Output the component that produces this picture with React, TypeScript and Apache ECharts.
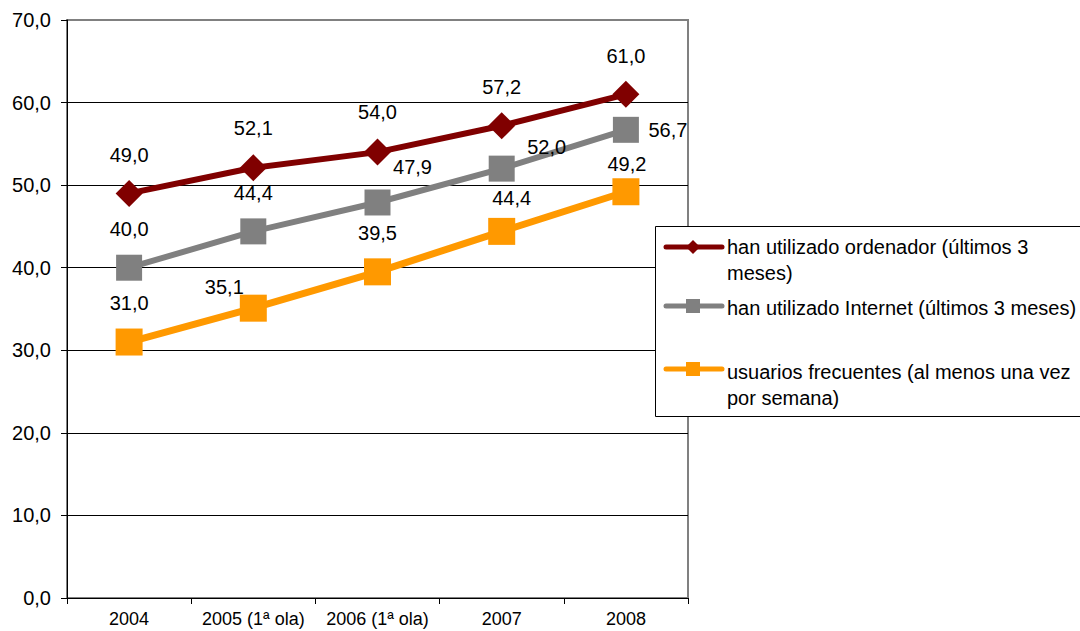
import React, { useEffect, useRef } from 'react';
import * as echarts from 'echarts';

const categories = ['2004', '2005 (1ª ola)', '2006 (1ª ola)', '2007', '2008'];
const seriesNames = [
  'han utilizado ordenador (últimos 3 meses)',
  'han utilizado Internet (últimos 3 meses)',
  'usuarios frecuentes (al menos una vez por semana)',
];
const legendTexts = [
  'han utilizado ordenador (últimos 3\nmeses)',
  'han utilizado Internet (últimos 3 meses)',
  'usuarios frecuentes (al menos una vez\npor semana)',
];
const ordenador = [49.0, 52.1, 54.0, 57.2, 61.0];
const internet = [40.0, 44.4, 47.9, 52.0, 56.7];
const frecuentes = [31.0, 35.1, 39.5, 44.4, 49.2];

const yMin = 0;
const yMax = 70;
const yStep = 10;

// label placement (styling, in pixels relative to the marker centre)
const offsetsOrdenador = [[0, -38], [0, -40], [0, -40], [0, -39], [0, -38]];
const offsetsInternet = [[0, -39], [0, -38], [35, -35], [45, -22], [42, 0]];
const offsetsFrecuentes = [[0, -39], [-29, -21], [0, -39], [10, -33], [1, -28]];

const colors = ['#800000', '#808080', '#FF9900'];
const FONT = 'Arial, "Liberation Sans", sans-serif';

const fmt = (v: number) => v.toFixed(1).replace('.', ',');

function buildData(values: number[], offsets: number[][]) {
  return values.map((v, i) => ({
    value: v,
    label: { offset: offsets[i] },
  }));
}

export default function App() {
  const ref = useRef<HTMLDivElement>(null);

  useEffect(() => {
    if (!ref.current) return;
    const chart = echarts.init(ref.current, undefined, { renderer: 'svg' });

    const labelBase = {
      show: true,
      position: 'inside',
      color: '#000',
      fontSize: 20,
      fontFamily: FONT,
      formatter: (p: any) => fmt(p.value),
    };

    const legendItems = [
      { y: 247, textY: 234, symbol: 'diamond' },
      { y: 306, textY: 295, symbol: 'rect' },
      { y: 369, textY: 359, symbol: 'rect' },
    ];

    const legendGraphics: any[] = [
      {
        type: 'rect',
        shape: { x: 655.5, y: 226.5, width: 440, height: 190 },
        style: { fill: '#fff', stroke: '#000', lineWidth: 1 },
        z: 100,
      },
    ];
    legendItems.forEach((it, i) => {
      legendGraphics.push({
        type: 'line',
        shape: { x1: 666, y1: it.y, x2: 722, y2: it.y },
        style: { stroke: colors[i], lineWidth: 5, lineCap: 'round' },
        z: 101,
      });
      if (it.symbol === 'diamond') {
        legendGraphics.push({
          type: 'polygon',
          shape: { points: [[693, it.y - 7], [700, it.y], [693, it.y + 7], [686, it.y]] },
          style: { fill: colors[i] },
          z: 102,
        });
      } else {
        legendGraphics.push({
          type: 'rect',
          shape: { x: 686, y: it.y - 7, width: 14, height: 14 },
          style: { fill: colors[i] },
          z: 102,
        });
      }
      legendGraphics.push({
        type: 'text',
        x: 727,
        y: it.textY,
        style: {
          text: legendTexts[i],
          fill: '#000',
          font: `20px ${FONT}`,
          lineHeight: 26,
          textVerticalAlign: 'top',
          verticalAlign: 'top',
        },
        z: 102,
      });
    });

    chart.setOption({
      animation: false,
      backgroundColor: '#fff',
      textStyle: { fontFamily: FONT },
      grid: {
        left: 67,
        right: 392,
        top: 20,
        bottom: 33,
        show: true,
        borderColor: '#808080',
        borderWidth: 2,
        backgroundColor: 'transparent',
      },
      xAxis: {
        type: 'category',
        data: categories,
        boundaryGap: true,
        axisLine: { show: true, lineStyle: { color: '#000', width: 1 } },
        axisTick: { show: true, length: 6, interval: 0, lineStyle: { color: '#000' } },
        axisLabel: { color: '#000', fontSize: 18, margin: 12, interval: 0, fontFamily: FONT },
        splitLine: { show: false },
      },
      yAxis: {
        type: 'value',
        min: yMin,
        max: yMax,
        interval: yStep,
        axisLine: { show: true, lineStyle: { color: '#000', width: 1 } },
        axisTick: { show: true, length: 6, lineStyle: { color: '#000' } },
        axisLabel: {
          color: '#000',
          fontSize: 20,
          margin: 16,
          fontFamily: FONT,
          formatter: (v: number) => fmt(v),
        },
        splitLine: { show: true, showMaxLine: false, lineStyle: { color: '#000', width: 1 } },
      },
      series: [
        {
          name: seriesNames[0],
          type: 'line',
          data: buildData(ordenador, offsetsOrdenador),
          symbol: 'diamond',
          symbolSize: 27,
          lineStyle: { color: colors[0], width: 6 },
          itemStyle: { color: colors[0] },
          label: labelBase,
          z: 4,
        },
        {
          name: seriesNames[1],
          type: 'line',
          data: buildData(internet, offsetsInternet),
          symbol: 'rect',
          symbolSize: 26,
          lineStyle: { color: colors[1], width: 6 },
          itemStyle: { color: colors[1] },
          label: labelBase,
          z: 3,
        },
        {
          name: seriesNames[2],
          type: 'line',
          data: buildData(frecuentes, offsetsFrecuentes),
          symbol: 'rect',
          symbolSize: 27,
          lineStyle: { color: colors[2], width: 7 },
          itemStyle: { color: colors[2] },
          label: labelBase,
          z: 2,
        },
      ],
      graphic: legendGraphics,
    });

    return () => chart.dispose();
  }, []);

  return (
    <div
      ref={ref}
      style={{ position: 'fixed', left: 0, top: 0, width: 1080, height: 631 }}
    />
  );
}
